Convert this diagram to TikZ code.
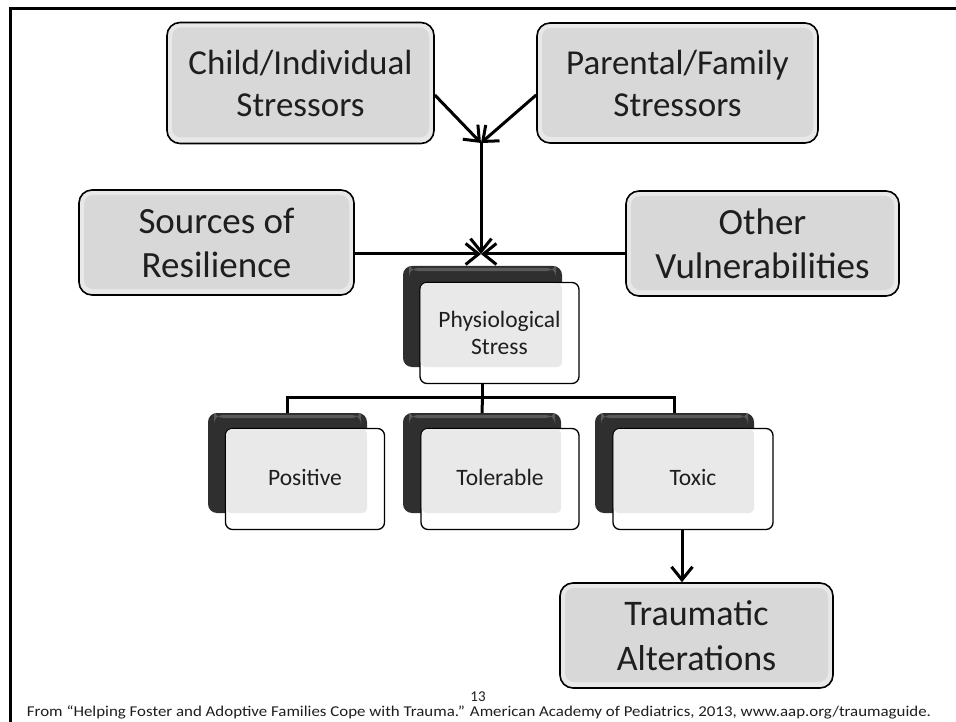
\documentclass[tikz,border=0pt]{standalone}
\usepackage{fontspec}
\setmainfont{Carlito}
\usetikzlibrary{arrows.meta,calc}
\definecolor{boxgray}{HTML}{D8D8D8}
\definecolor{boxrim}{HTML}{E8E8E8}
\definecolor{darkbox}{HTML}{2F2F2F}
\definecolor{darkhi}{HTML}{5A5A5A}
\definecolor{overlapgray}{HTML}{E9E9E9}
\definecolor{txt}{HTML}{1E1E1E}
\begin{document}
\begin{tikzpicture}[x=1pt,y=-1pt,
  bigbox/.style={draw=black, line width=1.6pt, rounded corners=13pt, fill=boxrim, align=center, inner sep=0pt,
    text=txt, font=\fontsize{35}{42}\selectfont,
    path picture={\fill[boxgray, rounded corners=9pt]
      ([shift={(5pt,-5pt)}]path picture bounding box.north west) rectangle
      ([shift={(-5pt,6pt)}]path picture bounding box.south east);}},
  backbox/.style={fill=darkbox, rounded corners=9pt, inner sep=0pt,
    path picture={\fill[darkhi] ([shift={(6pt,-2pt)}]path picture bounding box.north west) rectangle
      ([shift={(-6pt,-5pt)}]path picture bounding box.north east);}},
  frontbox/.style={draw=black, line width=1.3pt, fill=white, rounded corners=7pt, inner sep=0pt, align=center,
    minimum width=159pt, minimum height=101pt},
  lbl/.style={text=txt, font=\fontsize{23.5}{27}\selectfont, align=center, inner sep=0pt},
  onelbl/.style={lbl, text height=17pt, text depth=5pt},
  conn/.style={line width=3pt},
  arr/.style={conn, -{Straight Barb[length=13pt,width=21pt]}},
]
\useasboundingbox (0,0) rectangle (956,722);
% slide frame
\draw[line width=3pt] (10,722) -- (10,9) -- (956,9);

% top boxes
\node[bigbox, minimum width=267pt, minimum height=121pt] (child) at (300.5,83) {Child/Individual\\Stressors};
\node[bigbox, minimum width=281pt, minimum height=120pt] (parent) at (677.5,83) {Parental/Family\\Stressors};
\node[bigbox, minimum width=275pt, minimum height=105pt, font=\fontsize{37}{44}\selectfont] (sources) at (216.5,242.5) {Sources of\\Resilience};
\node[bigbox, minimum width=273pt, minimum height=105pt, font=\fontsize{37}{44}\selectfont] (other) at (762.5,243.5) {Other\\Vulnerabilities};

\coordinate (meet) at (481,143);
\coordinate (hub) at (481,254);
\draw[arr] ([yshift=-12pt]child.east) -- (meet);
\draw[arr] ([yshift=-12pt]parent.west) -- (meet);
\draw[arr] (meet) -- (hub);
\draw[arr] (sources.east |- hub) -- (hub);
\draw[arr] (other.west |- hub) -- (hub);

% physiological stress
\node[backbox, minimum width=159pt, minimum height=101pt] (physb) at (482.5,316.5) {};
\coordinate (bus) at (482.5,397);
\draw[conn] (physb.south) -- (bus);
\node[frontbox] (physf) at (499.5,333) {};
\fill[overlapgray, rounded corners=6pt] ([shift={(1.2pt,-1.2pt)}]physf.north west) rectangle (physb.south east);
\node[lbl] (physt) at (physf.center) {Physiological\\Stress};

% bottom level
\node[backbox, minimum width=159pt, minimum height=100pt] (posb) at (287.5,463) {};
\node[backbox, minimum width=158pt, minimum height=100pt] (tolb) at (482,463) {};
\node[backbox, minimum width=159pt, minimum height=100pt] (toxb) at (674.5,463) {};
\draw[conn] (posb.north) |- (bus) -| (toxb.north);
\draw[conn] (bus) -- (tolb.north);

\node[frontbox] (posf) at (305,479) {};
\fill[overlapgray, rounded corners=6pt] ([shift={(1.2pt,-1.2pt)}]posf.north west) rectangle (posb.south east);
\node[onelbl] (post) at (posf.center) {Positive};

\node[frontbox, minimum width=158pt] (tolf) at (500,479) {};
\fill[overlapgray, rounded corners=6pt] ([shift={(1.2pt,-1.2pt)}]tolf.north west) rectangle (tolb.south east);
\node[onelbl] (tolt) at (tolf.center) {Tolerable};

\node[frontbox, minimum width=160pt] (toxf) at (693,479) {};
\fill[overlapgray, rounded corners=6pt] ([shift={(1.2pt,-1.2pt)}]toxf.north west) rectangle (toxb.south east);
\node[onelbl] (toxt) at (toxf.center) {Toxic};

% traumatic alterations
\node[bigbox, minimum width=273pt, minimum height=105pt, font=\fontsize{36}{45}\selectfont] (trauma) at (696.5,635.5) {Traumatic\\Alterations};
\draw[arr] ([xshift=-11pt]toxf.south) -- ([xshift=-11pt]toxf.south |- trauma.north);

% footer
\node[font=\fontsize{15}{15}\selectfont, inner sep=0pt, text=txt] (pagenum) at (478,697) {13};
\node[font=\fontsize{15}{15}\selectfont, inner sep=0pt, text=txt] (cite) at (479,712) {\scalebox{1.125}[1]{From “Helping Foster and Adoptive Families Cope with Trauma.” American Academy of Pediatrics, 2013, www.aap.org/traumaguide.}};
\end{tikzpicture}
\end{document}
